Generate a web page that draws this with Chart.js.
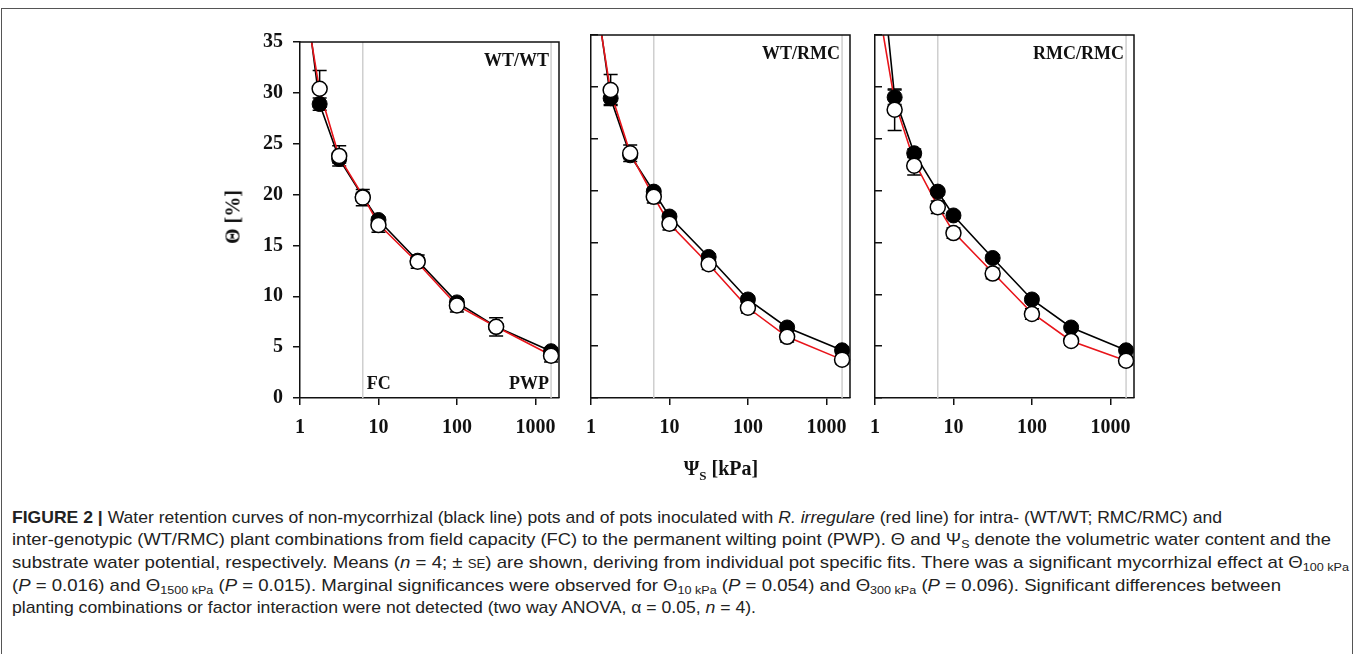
<!DOCTYPE html>
<html lang="en">
<head>
<meta charset="UTF-8">
<title>Water retention curves</title>
<script src="https://cdn.jsdelivr.net/npm/chart.js"></script>
<style>
  body { margin: 0; background: #fff; width: 1357px; height: 654px; overflow: hidden; position: relative; }
  .frame { position: absolute; left: 1px; top: 8px; width: 1352px; height: 700px; border: 1.5px solid #555; box-sizing: border-box; }
  canvas { position: absolute; }
  .serif { position: absolute; font-family: "Liberation Serif", "Times New Roman", serif; font-weight: bold; font-size: 20px; color: #111; white-space: nowrap; }
  .caption { position: absolute; left: 12px; top: 507px; font-family: "Liberation Sans Narrow", "Arial Narrow", "Liberation Sans", Arial, sans-serif; font-size: 17px; line-height: 22.3px; color: #222; }
  .caption div { white-space: nowrap; transform-origin: 0 0; width: max-content; }
  .caption sub { font-size: 11.5px; vertical-align: -3px; line-height: 0; }
</style>
</head>
<body>
<div class="frame"></div>
<canvas id="p0"></canvas>
<canvas id="p1"></canvas>
<canvas id="p2"></canvas>
<div class="serif" id="ylab" style="left:233px; top:217px; transform: translate(-50%,-50%) rotate(-90deg);">&Theta; [%]</div>
<div class="serif" id="xlab" style="left:721px; top:470px; transform: translate(-50%,-50%);">&Psi;<sub style="font-size:13px">S</sub> [kPa]</div>
<div class="caption">
  <div data-w="1210"><b>FIGURE 2 |</b> Water retention curves of non-mycorrhizal (black line) pots and of pots inoculated with <i>R. irregulare</i> (red line) for intra- (WT/WT; RMC/RMC) and</div>
  <div data-w="1319">inter-genotypic (WT/RMC) plant combinations from field capacity (FC) to the permanent wilting point (PWP). &Theta; and &Psi;<sub>S</sub> denote the volumetric water content and the</div>
  <div data-w="1337">substrate water potential, respectively. Means (<i>n</i> = 4; &plusmn; <span style="font-size:12px">SE</span>) are shown, deriving from individual pot specific fits. There was a significant mycorrhizal effect at &Theta;<sub>100 kPa</sub></div>
  <div data-w="1269">(<i>P</i> = 0.016) and &Theta;<sub>1500 kPa</sub> (<i>P</i> = 0.015). Marginal significances were observed for &Theta;<sub>10 kPa</sub> (<i>P</i> = 0.054) and &Theta;<sub>300 kPa</sub> (<i>P</i> = 0.096). Significant differences between</div>
  <div data-w="744">planting combinations or factor interaction were not detected (two way ANOVA, &alpha; = 0.05, <i>n</i> = 4).</div>
</div>
<script>
// suction steps (kPa) where the means were taken
const psi = [1.78, 3.16, 6.31, 10, 31.6, 100, 316, 1585];
// fitted curve evaluated on the same steps plus one point above the frame
const fitPsi = [1.2, 1.78, 3.16, 6.31, 10, 31.6, 100, 316, 1585];
const xTicks = [1, 10, 100, 1000];
const yTicks = [0, 5, 10, 15, 20, 25, 30, 35];
const refLines = [6.31, 1585];   // FC, PWP
const refLabels = ['FC', 'PWP'];
const panelNames = ['WT/WT', 'WT/RMC', 'RMC/RMC'];

// WT/WT
const wtwtNonAM = [28.9, 23.5, 19.8, 17.5, 13.5, 9.4, 7.0, 4.6];
const wtwtNonAMse = [0.6, 0.4, 0.4, 0.3, 0.3, 0.3, 0.3, 0.3];
const wtwtAM = [30.4, 23.8, 19.7, 17.0, 13.4, 9.1, 7.0, 4.15];
const wtwtAMse = [1.8, 1.0, 0.8, 0.7, 0.65, 0.65, 0.9, 0.6];
const wtwtFitNonAM = [39.2, 28.9, 23.5, 19.8, 17.5, 13.5, 9.4, 7.0, 4.6];
const wtwtFitAM = [38.2, 30.2, 23.7, 19.9, 17.1, 13.3, 9.1, 7.0, 4.2];

// WT/RMC
const wtrmcNonAM = [28.9, 23.4, 19.9, 17.5, 13.6, 9.5, 6.8, 4.6];
const wtrmcNonAMse = [0.6, 0.3, 0.3, 0.3, 0.3, 0.3, 0.3, 0.3];
const wtrmcAM = [29.7, 23.6, 19.4, 16.8, 12.9, 8.7, 5.9, 3.7];
const wtrmcAMse = [1.5, 0.8, 0.6, 0.6, 0.5, 0.5, 0.5, 0.4];
const wtrmcFitNonAM = [38.1, 28.9, 23.4, 19.9, 17.5, 13.6, 9.5, 6.8, 4.6];
const wtrmcFitAM = [37.7, 29.5, 23.6, 19.4, 16.8, 12.9, 8.7, 5.9, 3.7];

// RMC/RMC
const rmcrmcNonAM = [29.0, 23.6, 19.9, 17.6, 13.5, 9.5, 6.8, 4.6];
const rmcrmcNonAMse = [0.7, 0.4, 0.3, 0.3, 0.3, 0.3, 0.2, 0.2];
const rmcrmcAM = [27.8, 22.4, 18.4, 15.9, 12.0, 8.1, 5.5, 3.6];
const rmcrmcAMse = [2.0, 0.9, 0.6, 0.5, 0.5, 0.5, 0.4, 0.4];
const rmcrmcFitNonAM = [41.7, 29.0, 23.6, 19.9, 17.6, 13.5, 9.5, 6.8, 4.6];
const rmcrmcFitAM = [36.2, 28.6, 22.8, 18.5, 16.0, 12.1, 8.2, 5.5, 3.6];

const panels = [
  { id: 'p0', left: 300, right: 559, yw: 80, labels: true,
    nonAM: wtwtNonAM, nonAMse: wtwtNonAMse, am: wtwtAM, amSe: wtwtAMse, fitNonAM: wtwtFitNonAM, fitAM: wtwtFitAM },
  { id: 'p1', left: 591, right: 850, yw: 20, labels: false,
    nonAM: wtrmcNonAM, nonAMse: wtrmcNonAMse, am: wtrmcAM, amSe: wtrmcAMse, fitNonAM: wtrmcFitNonAM, fitAM: wtrmcFitAM },
  { id: 'p2', left: 875, right: 1134, yw: 20, labels: false,
    nonAM: rmcrmcNonAM, nonAMse: rmcrmcNonAMse, am: rmcrmcAM, amSe: rmcrmcAMse, fitNonAM: rmcrmcFitNonAM, fitAM: rmcrmcFitAM }
];
const plotTop = 35, plotBottom = 398, canvasTop = 20, canvasH = 440;

const serif = '"Liberation Serif", "Times New Roman", serif';
const toXY = (xs, ys) => xs.map((x, i) => ({ x: x, y: ys[i] }));

// grey FC/PWP lines, error bars, frame and panel texts
const decorations = {
  id: 'decorations',
  beforeDatasetsDraw(chart) {
    const { ctx, chartArea: a, scales } = chart;
    ctx.save();
    ctx.strokeStyle = '#cfcfcf';
    ctx.lineWidth = 1.5;
    refLines.forEach(v => {
      const x = scales.x.getPixelForValue(v);
      ctx.beginPath(); ctx.moveTo(x, a.top); ctx.lineTo(x, a.bottom); ctx.stroke();
    });
    const p = chart.options.plugins.decorations;
    ctx.strokeStyle = '#000';
    ctx.lineWidth = 1.5;
    [[p.nonAM, p.nonAMse], [p.am, p.amSe]].forEach(([vals, se]) => {
      vals.forEach((v, i) => {
        const x = scales.x.getPixelForValue(psi[i]);
        const y1 = scales.y.getPixelForValue(v + se[i]);
        const y2 = scales.y.getPixelForValue(v - se[i]);
        ctx.beginPath();
        ctx.moveTo(x, y1); ctx.lineTo(x, y2);
        ctx.moveTo(x - 7, y1); ctx.lineTo(x + 7, y1);
        ctx.moveTo(x - 7, y2); ctx.lineTo(x + 7, y2);
        ctx.stroke();
      });
    });
    ctx.restore();
  },
  afterDraw(chart) {
    const { ctx, chartArea: a, scales } = chart;
    const p = chart.options.plugins.decorations;
    ctx.save();
    ctx.strokeStyle = '#111';
    ctx.lineWidth = 1.5;
    ctx.beginPath();
    ctx.moveTo(a.left, a.top); ctx.lineTo(a.right, a.top); ctx.lineTo(a.right, a.bottom);
    ctx.stroke();
    ctx.fillStyle = '#111';
    ctx.font = 'bold 18px ' + serif;
    ctx.textBaseline = 'middle';
    ctx.textAlign = 'right';
    ctx.fillText(p.name, a.right - 10, a.top + 19);
    if (p.labels) {
      ctx.textAlign = 'left';
      ctx.fillText(refLabels[0], scales.x.getPixelForValue(refLines[0]) + 4, a.bottom - 14);
      ctx.textAlign = 'right';
      ctx.fillText(refLabels[1], a.right - 10, a.bottom - 14);
    }
    ctx.restore();
  }
};

panels.forEach((p, k) => {
  const cv = document.getElementById(p.id);
  cv.width = p.right - p.left + p.yw + 11;
  cv.height = canvasH;
  cv.style.left = (p.left - p.yw) + 'px';
  cv.style.top = canvasTop + 'px';

  new Chart(cv.getContext('2d'), {
    type: 'scatter',
    data: {
      datasets: [
        { data: toXY(psi, p.am), showLine: false, pointRadius: 7.5, pointBackgroundColor: '#fff',
          pointBorderColor: '#000', pointBorderWidth: 1.5, clip: false, order: 0 },
        { data: toXY(psi, p.nonAM), showLine: false, pointRadius: 7.5, pointBackgroundColor: '#000',
          pointBorderColor: '#000', pointBorderWidth: 1, clip: false, order: 1 },
        { data: toXY(fitPsi, p.fitAM), showLine: true, pointRadius: 0, borderColor: '#e8141a',
          borderWidth: 1.6, tension: 0, order: 2 },
        { data: toXY(fitPsi, p.fitNonAM), showLine: true, pointRadius: 0, borderColor: '#000',
          borderWidth: 1.6, tension: 0, order: 3 }
      ]
    },
    options: {
      responsive: false,
      animation: false,
      devicePixelRatio: 1,
      layout: { padding: { top: plotTop - canvasTop, right: 11, left: 0, bottom: 0 } },
      plugins: {
        legend: { display: false },
        tooltip: { enabled: false },
        decorations: { name: panelNames[k], labels: p.labels, nonAM: p.nonAM, nonAMse: p.nonAMse, am: p.am, amSe: p.amSe }
      },
      scales: {
        x: {
          type: 'logarithmic', min: 1, max: 2000,
          afterBuildTicks: s => { s.ticks = xTicks.map(v => ({ value: v })); },
          afterFit: s => { s.height = canvasH - (plotBottom - canvasTop); },
          border: { display: true, color: '#111', width: 1.5 },
          grid: { drawOnChartArea: false, drawTicks: true, tickLength: 7, color: '#111', lineWidth: 1.5 },
          ticks: { color: '#111', padding: 11, maxRotation: 0, autoSkip: false,
                   font: { family: serif, size: 20, weight: 'bold' },
                   callback: v => String(v) }
        },
        y: {
          min: 0, max: 35,
          afterBuildTicks: s => { s.ticks = yTicks.map(v => ({ value: v })); },
          afterFit: s => { s.width = p.yw; },
          border: { display: true, color: '#111', width: 1.5 },
          // first panel has outward ticks with labels, the other two short inward ticks
          grid: { drawOnChartArea: false, drawTicks: true, tickLength: p.labels ? 7 : -7, color: '#111', lineWidth: 1.5 },
          ticks: { display: p.labels, color: '#111', padding: 10,
                   font: { family: serif, size: 20, weight: 'bold' } }
        }
      }
    },
    plugins: [decorations]
  });
});

// squeeze each caption line to the width it has in the figure
document.querySelectorAll('.caption div').forEach(d => {
  const target = parseFloat(d.dataset.w);
  const actual = d.getBoundingClientRect().width;
  if (actual > 0) d.style.transform = 'scaleX(' + (target / actual) + ')';
});
</script>
</body>
</html>
